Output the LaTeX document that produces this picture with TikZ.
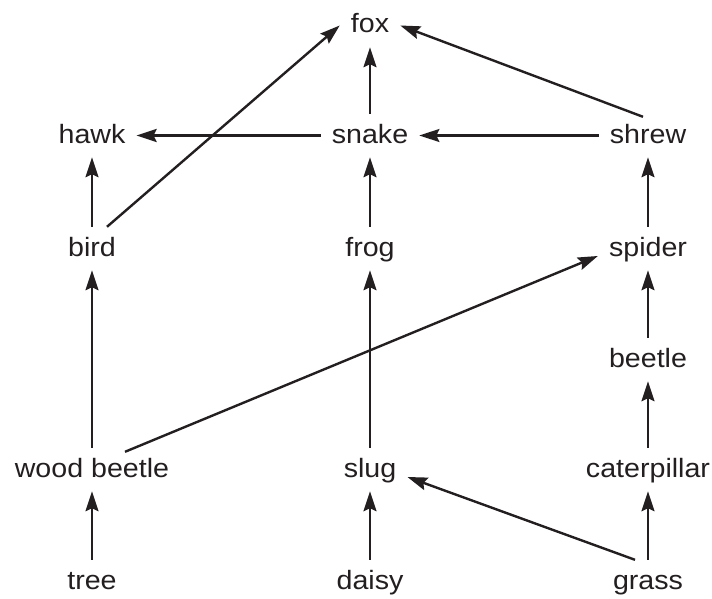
\documentclass[tikz,border=0pt]{standalone}
\usepackage{fontspec}
\setmainfont{Liberation Sans}[FakeStretch=1.08]
\usetikzlibrary{arrows.meta}
\definecolor{ink}{RGB}{35,31,32}
\begin{document}
\begin{tikzpicture}[x=1pt,y=-1pt,
  lbl/.style={anchor=base, text=ink, font=\fontsize{26.5}{30}\selectfont,
    text height=19pt, text depth=4pt, inner xsep=11pt, inner ysep=10pt},
  link/.style={line width=2.4pt, draw=ink, -{Stealth[length=20pt,width=13pt,inset=3pt]}}]
\useasboundingbox (0,0) rectangle (712,599);
\node[lbl] (fox) at (370,33) {fox};
\node[lbl] (hawk) at (92,143) {hawk};
\node[lbl] (snake) at (370,143) {snake};
\node[lbl] (shrew) at (648,143) {shrew};
\node[lbl] (bird) at (92,256) {bird};
\node[lbl] (frog) at (370,256) {frog};
\node[lbl] (spider) at (648,256) {spider};
\node[lbl] (beetle) at (648,367) {beetle};
\node[lbl] (wb) at (92,477) {wood beetle};
\node[lbl] (slug) at (370,477) {slug};
\node[lbl] (cat) at (648,477) {caterpillar};
\node[lbl] (tree) at (92,589) {tree};
\node[lbl] (daisy) at (370,589) {daisy};
\node[lbl] (grass) at (648,589) {grass};

\draw[link] (tree) -- (wb);
\draw[link] (wb) -- (bird);
\draw[link] (bird) -- (hawk);
\draw[link] ([xshift=15pt]bird.north) -- (fox.west);
\draw[link] ([xshift=33pt,yshift=-4pt]wb.north) -- (spider.base west);
\draw[link] (daisy) -- (slug);
\draw[link] (slug) -- (frog);
\draw[link] (frog) -- (snake);
\draw[link] (snake) -- (fox);
\draw[link] (snake) -- (hawk);
\draw[link] (shrew) -- (snake);
\draw[link] ([xshift=-5pt,yshift=-3pt]shrew.north) -- (fox.east);
\draw[link] (spider) -- (shrew);
\draw[link] (beetle) -- (spider);
\draw[link] (cat) -- (beetle);
\draw[link] (grass) -- (cat);
\draw[link] ([xshift=-13pt]grass.north) -- (slug.base east);
\end{tikzpicture}
\end{document}
